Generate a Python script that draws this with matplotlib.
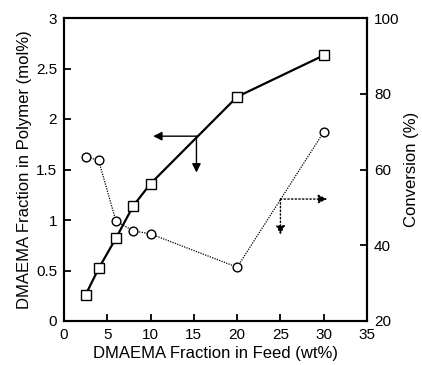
import matplotlib.pyplot as plt

plt.rcParams['font.family'] = ['Liberation Sans', 'DejaVu Sans']

feed = [2.5, 4, 6, 8, 10, 20, 30]
polymer = [0.26, 0.52, 0.82, 1.14, 1.36, 2.22, 2.63]
conversion = [63.4, 62.4, 46.4, 43.8, 43.0, 34.2, 69.9]

fig = plt.figure(figsize=(4.22, 3.65), dpi=100)
ax = fig.add_axes([64 / 422, 44 / 365, 303 / 422, 303 / 365])
ax2 = ax.twinx()

ax.plot(feed, polymer, color='black', lw=1.6, marker='s', ms=6.5,
        mfc='white', mec='black', mew=1.0, zorder=3)
ax2.plot(feed, conversion, color='black', lw=0.9, ls=(0, (1, 1)),
         marker='o', ms=6.3, mfc='white', mec='black', mew=1.0)

# arrows pointing to the axis each series belongs to
ax.annotate('', xy=(10.3, 1.83), xytext=(15.3, 1.83),
            arrowprops=dict(arrowstyle='-|>', color='black', lw=1.0,
                            mutation_scale=13, shrinkA=0, shrinkB=0))
ax.annotate('', xy=(15.3, 1.47), xytext=(15.3, 1.83),
            arrowprops=dict(arrowstyle='-|>', color='black', lw=1.0,
                            mutation_scale=13, shrinkA=0, shrinkB=0))
ax2.annotate('', xy=(30.4, 52.2), xytext=(25.0, 52.2),
             arrowprops=dict(arrowstyle='-|>', color='black', lw=1.0, ls=':',
                             mutation_scale=13, shrinkA=0, shrinkB=0))
ax2.annotate('', xy=(25.0, 42.8), xytext=(25.0, 52.2),
             arrowprops=dict(arrowstyle='-|>', color='black', lw=1.0, ls=':',
                             mutation_scale=13, shrinkA=0, shrinkB=0))

ax.set_xlim(0, 35)
ax.set_ylim(0, 3)
ax2.set_ylim(20, 100)
ax.set_xticks([0, 5, 10, 15, 20, 25, 30, 35])
ax.set_yticks([0, 0.5, 1, 1.5, 2, 2.5, 3])
ax.set_yticklabels(['0', '0.5', '1', '1.5', '2', '2.5', '3'])
ax2.set_yticks([20, 40, 60, 80, 100])

for a in (ax, ax2):
    for s in a.spines.values():
        s.set_linewidth(1.5)
ax.tick_params(direction='in', length=5, width=1.3, labelsize=11, pad=5)
ax2.tick_params(direction='in', length=5, width=1.3, labelsize=11, pad=5)

ax.set_xlabel('DMAEMA Fraction in Feed (wt%)', fontsize=12, labelpad=3)
ax.set_ylabel('DMAEMA Fraction in Polymer (mol%)', fontsize=12, labelpad=3)
ax2.set_ylabel('Conversion (%)', fontsize=12, labelpad=3)

fig.savefig('out.png', dpi=100)
